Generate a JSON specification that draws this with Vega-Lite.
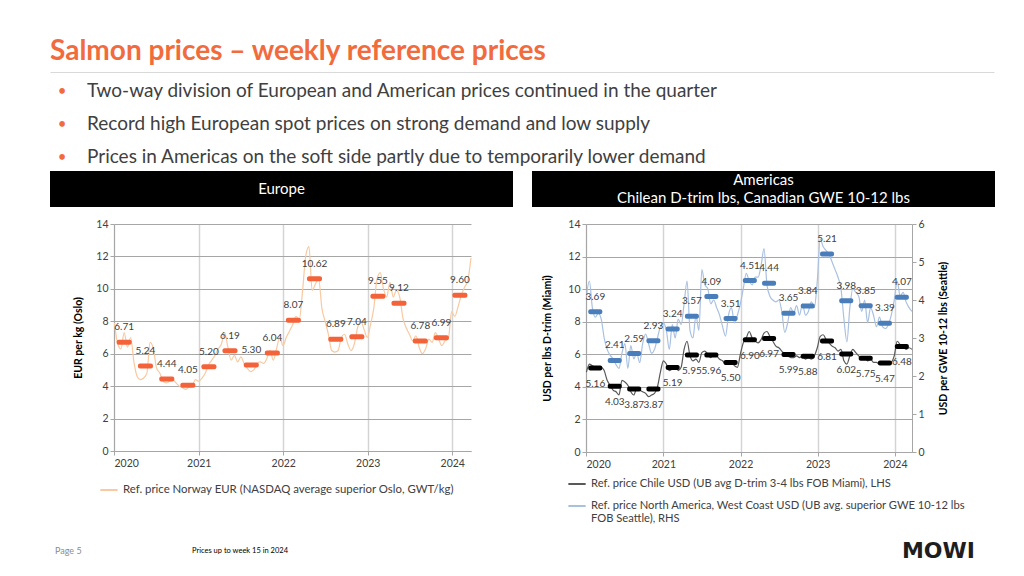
{
  "$schema": "https://vega.github.io/schema/vega-lite/v6.json",
  "background": "white",
  "padding": {"left": 50, "top": 38, "right": 0, "bottom": 0},
  "title": {"text": "Salmon prices – weekly reference prices", "anchor": "start", "color": "#F26B3D", "font": "Lato", "fontSize": 28, "fontWeight": "bold", "offset": 6},
  "config": {
    "font": "Lato",
    "view": {"stroke": null},
    "axis": {"labelFont": "Lato", "titleFont": "Lato"},
    "legend": {"labelFont": "Lato"},
    "text": {"font": "Lato"}
  },
  "datasets": {
    "weekly": [
      {"d": "2020-01-03", "no": 7.9, "cl": 4.9, "na": 4.1},
      {"d": "2020-01-17", "no": 6.6, "cl": 5.4, "na": 4.5},
      {"d": "2020-01-31", "no": 6.3, "cl": 5.3, "na": 3.8},
      {"d": "2020-02-14", "no": 7.3, "cl": 5.2, "na": 3.55},
      {"d": "2020-02-28", "no": 6.4, "cl": 5.1, "na": 3.65},
      {"d": "2020-03-13", "no": 7.0, "cl": 5.2, "na": 3.5},
      {"d": "2020-03-27", "no": 5.5, "cl": 5.0, "na": 3.0},
      {"d": "2020-04-10", "no": 4.6, "cl": 4.4, "na": 2.7},
      {"d": "2020-04-24", "no": 4.4, "cl": 4.1, "na": 2.55},
      {"d": "2020-05-08", "no": 4.5, "cl": 3.8, "na": 2.45},
      {"d": "2020-05-22", "no": 4.8, "cl": 3.7, "na": 2.3},
      {"d": "2020-06-05", "no": 6.7, "cl": 3.5, "na": 2.2},
      {"d": "2020-06-19", "no": 6.3, "cl": 4.4, "na": 2.6},
      {"d": "2020-07-03", "no": 5.1, "cl": 4.3, "na": 2.85},
      {"d": "2020-07-17", "no": 4.8, "cl": 4.1, "na": 2.2},
      {"d": "2020-07-31", "no": 4.3, "cl": 3.7, "na": 2.8},
      {"d": "2020-08-14", "no": 4.2, "cl": 3.5, "na": 2.45},
      {"d": "2020-08-28", "no": 4.3, "cl": 3.9, "na": 2.6},
      {"d": "2020-09-11", "no": 4.4, "cl": 3.8, "na": 2.35},
      {"d": "2020-09-25", "no": 4.2, "cl": 3.7, "na": 2.85},
      {"d": "2020-10-09", "no": 4.0, "cl": 3.6, "na": 3.1},
      {"d": "2020-10-23", "no": 3.9, "cl": 3.4, "na": 2.85},
      {"d": "2020-11-06", "no": 3.8, "cl": 3.5, "na": 2.6},
      {"d": "2020-11-20", "no": 3.95, "cl": 3.6, "na": 2.7},
      {"d": "2020-12-04", "no": 4.05, "cl": 4.0, "na": 3.0},
      {"d": "2020-12-18", "no": 4.4, "cl": 4.9, "na": 3.3},
      {"d": "2021-01-01", "no": 4.3, "cl": 5.6, "na": 3.4},
      {"d": "2021-01-15", "no": 4.5, "cl": 5.4, "na": 3.2},
      {"d": "2021-01-29", "no": 4.8, "cl": 5.0, "na": 2.7},
      {"d": "2021-02-12", "no": 5.3, "cl": 5.1, "na": 3.35},
      {"d": "2021-02-26", "no": 5.6, "cl": 5.3, "na": 3.0},
      {"d": "2021-03-12", "no": 5.9, "cl": 5.0, "na": 3.5},
      {"d": "2021-03-26", "no": 6.3, "cl": 5.2, "na": 3.35},
      {"d": "2021-04-09", "no": 6.6, "cl": 6.3, "na": 3.9},
      {"d": "2021-04-23", "no": 7.3, "cl": 6.8, "na": 4.5},
      {"d": "2021-05-07", "no": 6.4, "cl": 5.9, "na": 3.2},
      {"d": "2021-05-21", "no": 5.6, "cl": 5.6, "na": 3.0},
      {"d": "2021-06-04", "no": 5.9, "cl": 5.7, "na": 3.6},
      {"d": "2021-06-18", "no": 5.5, "cl": 5.5, "na": 3.2},
      {"d": "2021-07-02", "no": 5.8, "cl": 6.1, "na": 4.8},
      {"d": "2021-07-16", "no": 5.4, "cl": 6.2, "na": 4.4},
      {"d": "2021-07-30", "no": 5.1, "cl": 6.0, "na": 4.3},
      {"d": "2021-08-13", "no": 4.9, "cl": 5.8, "na": 3.9},
      {"d": "2021-08-27", "no": 5.0, "cl": 6.0, "na": 4.0},
      {"d": "2021-09-10", "no": 5.4, "cl": 5.9, "na": 3.8},
      {"d": "2021-09-24", "no": 5.5, "cl": 5.7, "na": 3.6},
      {"d": "2021-10-08", "no": 5.4, "cl": 5.6, "na": 3.3},
      {"d": "2021-10-22", "no": 5.7, "cl": 5.4, "na": 3.05},
      {"d": "2021-11-05", "no": 6.2, "cl": 5.5, "na": 3.6},
      {"d": "2021-11-19", "no": 5.6, "cl": 5.6, "na": 3.8},
      {"d": "2021-12-03", "no": 6.3, "cl": 5.3, "na": 3.4},
      {"d": "2021-12-17", "no": 7.0, "cl": 5.2, "na": 3.6},
      {"d": "2021-12-31", "no": 6.5, "cl": 6.0, "na": 3.9},
      {"d": "2022-01-14", "no": 7.0, "cl": 6.7, "na": 4.3},
      {"d": "2022-01-28", "no": 7.4, "cl": 7.0, "na": 4.7},
      {"d": "2022-02-11", "no": 7.8, "cl": 7.4, "na": 4.5},
      {"d": "2022-02-25", "no": 8.3, "cl": 7.0, "na": 4.4},
      {"d": "2022-03-11", "no": 8.1, "cl": 6.8, "na": 4.6},
      {"d": "2022-03-25", "no": 9.8, "cl": 6.7, "na": 4.6},
      {"d": "2022-04-08", "no": 12.0, "cl": 6.9, "na": 4.9},
      {"d": "2022-04-22", "no": 12.6, "cl": 7.3, "na": 5.35},
      {"d": "2022-05-06", "no": 9.9, "cl": 7.4, "na": 4.4},
      {"d": "2022-05-20", "no": 10.3, "cl": 7.1, "na": 4.1},
      {"d": "2022-06-03", "no": 10.6, "cl": 6.8, "na": 4.0},
      {"d": "2022-06-17", "no": 8.8, "cl": 6.5, "na": 3.95},
      {"d": "2022-07-01", "no": 8.0, "cl": 6.4, "na": 4.0},
      {"d": "2022-07-15", "no": 7.2, "cl": 6.2, "na": 3.7},
      {"d": "2022-07-29", "no": 6.2, "cl": 6.0, "na": 3.15},
      {"d": "2022-08-12", "no": 6.1, "cl": 5.9, "na": 3.4},
      {"d": "2022-08-26", "no": 6.2, "cl": 5.8, "na": 3.8},
      {"d": "2022-09-09", "no": 7.0, "cl": 5.8, "na": 3.65},
      {"d": "2022-09-23", "no": 7.2, "cl": 5.9, "na": 3.85},
      {"d": "2022-10-07", "no": 6.6, "cl": 5.8, "na": 3.6},
      {"d": "2022-10-21", "no": 6.2, "cl": 5.9, "na": 3.9},
      {"d": "2022-11-04", "no": 6.6, "cl": 5.7, "na": 3.6},
      {"d": "2022-11-18", "no": 7.6, "cl": 5.8, "na": 3.7},
      {"d": "2022-12-02", "no": 8.0, "cl": 5.7, "na": 3.95},
      {"d": "2022-12-16", "no": 7.5, "cl": 5.9, "na": 3.8},
      {"d": "2022-12-30", "no": 7.0, "cl": 6.4, "na": 4.5},
      {"d": "2023-01-13", "no": 7.8, "cl": 7.1, "na": 5.6},
      {"d": "2023-01-27", "no": 8.8, "cl": 7.2, "na": 5.4},
      {"d": "2023-02-10", "no": 10.6, "cl": 6.9, "na": 5.3},
      {"d": "2023-02-24", "no": 11.0, "cl": 6.7, "na": 5.2},
      {"d": "2023-03-10", "no": 10.0, "cl": 6.5, "na": 5.0},
      {"d": "2023-03-24", "no": 9.5, "cl": 6.4, "na": 4.8},
      {"d": "2023-04-07", "no": 10.4, "cl": 6.2, "na": 4.6},
      {"d": "2023-04-21", "no": 9.5, "cl": 6.3, "na": 4.3},
      {"d": "2023-05-05", "no": 9.9, "cl": 5.6, "na": 3.5},
      {"d": "2023-05-19", "no": 9.5, "cl": 5.4, "na": 2.9},
      {"d": "2023-06-02", "no": 8.2, "cl": 5.9, "na": 3.8},
      {"d": "2023-06-16", "no": 7.6, "cl": 6.3, "na": 4.3},
      {"d": "2023-06-30", "no": 7.2, "cl": 6.1, "na": 4.2},
      {"d": "2023-07-14", "no": 6.8, "cl": 5.9, "na": 4.1},
      {"d": "2023-07-28", "no": 7.1, "cl": 5.7, "na": 3.7},
      {"d": "2023-08-11", "no": 6.4, "cl": 5.8, "na": 4.0},
      {"d": "2023-08-25", "no": 6.0, "cl": 5.6, "na": 3.4},
      {"d": "2023-09-08", "no": 6.3, "cl": 5.7, "na": 3.8},
      {"d": "2023-09-22", "no": 6.9, "cl": 5.5, "na": 3.6},
      {"d": "2023-10-06", "no": 6.7, "cl": 5.5, "na": 3.3},
      {"d": "2023-10-20", "no": 7.3, "cl": 5.4, "na": 3.55},
      {"d": "2023-11-03", "no": 6.9, "cl": 5.5, "na": 3.3},
      {"d": "2023-11-17", "no": 6.5, "cl": 5.4, "na": 3.25},
      {"d": "2023-12-01", "no": 6.8, "cl": 5.4, "na": 3.35},
      {"d": "2023-12-15", "no": 6.9, "cl": 5.5, "na": 3.6},
      {"d": "2023-12-29", "no": 8.6, "cl": 5.9, "na": 4.0},
      {"d": "2024-01-12", "no": 8.3, "cl": 6.8, "na": 4.5},
      {"d": "2024-01-26", "no": 8.9, "cl": 6.6, "na": 4.1},
      {"d": "2024-02-09", "no": 9.6, "cl": 6.5, "na": 4.2},
      {"d": "2024-02-23", "no": 10.1, "cl": 6.3, "na": 3.95},
      {"d": "2024-03-08", "no": 10.5, "cl": 6.4, "na": 3.8},
      {"d": "2024-03-22", "no": 11.9, "cl": 6.3, "na": 3.7}
    ],
    "quarters": [
      {"q": "2020-02-14", "no": 6.71, "cl": 5.16, "na": 3.69},
      {"q": "2020-05-16", "no": 5.24, "cl": 4.03, "na": 2.41},
      {"q": "2020-08-16", "no": 4.44, "cl": 3.87, "na": 2.59},
      {"q": "2020-11-15", "no": 4.05, "cl": 3.87, "na": 2.93},
      {"q": "2021-02-14", "no": 5.20, "cl": 5.19, "na": 3.24},
      {"q": "2021-05-16", "no": 6.19, "cl": 5.95, "na": 3.57},
      {"q": "2021-08-16", "no": 5.30, "cl": 5.96, "na": 4.09},
      {"q": "2021-11-15", "no": 6.04, "cl": 5.50, "na": 3.51},
      {"q": "2022-02-14", "no": 8.07, "cl": 6.90, "na": 4.51},
      {"q": "2022-05-16", "no": 10.62, "cl": 6.97, "na": 4.44},
      {"q": "2022-08-16", "no": 6.89, "cl": 5.99, "na": 3.65},
      {"q": "2022-11-15", "no": 7.04, "cl": 5.88, "na": 3.84},
      {"q": "2023-02-14", "no": 9.55, "cl": 6.81, "na": 5.21},
      {"q": "2023-05-16", "no": 9.12, "cl": 6.02, "na": 3.98},
      {"q": "2023-08-16", "no": 6.78, "cl": 5.75, "na": 3.85},
      {"q": "2023-11-15", "no": 6.99, "cl": 5.47, "na": 3.39},
      {"q": "2024-02-03", "no": 9.60, "cl": 6.48, "na": 4.07}
    ],
    "bullets": [
      {"line": 1, "text": "Two-way division of European and American prices continued in the quarter"},
      {"line": 2, "text": "Record high European spot prices on strong demand and low supply"},
      {"line": 3, "text": "Prices in Americas on the soft side partly due to temporarily lower demand"}
    ]
  },
  "spacing": 15,
  "vconcat": [
    {
      "spacing": 0,
      "vconcat": [
        {
          "width": 944,
          "height": 99,
          "data": {"name": "bullets"},
          "layer": [
            {
              "mark": {"type": "text", "align": "center", "baseline": "middle", "fontSize": 15, "color": "#F26B3D"},
              "encoding": {
                "x": {"datum": 12, "type": "quantitative", "scale": {"domain": [0, 944], "nice": false, "zero": false}, "axis": {"orient": "top", "domainColor": "#D9D9D9", "domainWidth": 1, "ticks": false, "labels": false, "grid": false, "title": null}},
                "y": {"field": "line", "type": "quantitative", "scale": {"domain": [0.4242, 3.4242], "reverse": true, "nice": false, "zero": false}, "axis": null},
                "text": {"value": "•"}
              }
            },
            {
              "mark": {"type": "text", "align": "left", "baseline": "middle", "fontSize": 19, "color": "#404040"},
              "encoding": {
                "x": {"datum": 37, "type": "quantitative"},
                "y": {"field": "line", "type": "quantitative"},
                "text": {"field": "text"}
              }
            }
          ]
        },
        {
          "spacing": 12,
          "vconcat": [
            {
              "spacing": 19,
              "hconcat": [
                {
                  "width": 463,
                  "height": 36,
                  "view": {"fill": "#000000", "stroke": null},
                  "data": {"values": [{"t": "Europe"}]},
                  "mark": {"type": "text", "color": "#FFFFFF", "fontSize": 15},
                  "encoding": {"text": {"field": "t"}}
                },
                {
                  "width": 463,
                  "height": 36,
                  "view": {"fill": "#000000", "stroke": null},
                  "data": {"values": [{"t": "Americas\nChilean D-trim lbs, Canadian GWE 10-12 lbs"}]},
                  "mark": {"type": "text", "color": "#FFFFFF", "fontSize": 15, "lineBreak": "\n", "lineHeight": 18, "dy": -9},
                  "encoding": {"text": {"field": "t"}}
                }
              ]
            },
            {
              "spacing": 68,
              "resolve": {"scale": {"color": "independent"}, "legend": {"color": "independent"}},
              "hconcat": [
                {
                  "spacing": 0,
                  "resolve": {"scale": {"color": "independent"}, "legend": {"color": "independent"}},
                  "hconcat": [
                    {
                      "width": 23,
                      "height": 10,
                      "data": {"values": []},
                      "mark": "point"
                    },
                    {
                      "width": 357,
                      "height": 227,
                      "layer": [
                        {
                          "data": {"name": "weekly"},
                          "mark": {"type": "line", "strokeWidth": 1.2, "interpolate": "monotone"},
                          "encoding": {
                            "x": {"field": "d", "type": "temporal",
                              "scale": {"domain": [{"year": 2020, "month": 1, "date": 1}, {"year": 2024, "month": 3, "date": 22}]},
                              "axis": {"values": [{"year": 2020, "month": 1, "date": 1}, {"year": 2021, "month": 1, "date": 1}, {"year": 2022, "month": 1, "date": 1}, {"year": 2023, "month": 1, "date": 1}, {"year": 2024, "month": 1, "date": 1}],
                                "tickCount": 20, "format": "%Y", "title": null, "grid": true, "gridColor": "#D4D4D4", "gridWidth": 1.5, "domainColor": "#A6A6A6", "tickColor": "#A6A6A6", "tickSize": 4, "labelFontSize": 10.5, "labelColor": "#404040", "labelPadding": 3}},
                            "y": {"field": "no", "type": "quantitative", "scale": {"domain": [0, 14], "nice": false},
                              "axis": {"values": [0, 2, 4, 6, 8, 10, 12, 14], "tickCount": 20, "format": "d", "grid": true, "gridColor": "#A6A6A6", "domainColor": "#A6A6A6", "tickColor": "#A6A6A6", "tickSize": 4, "labelFontSize": 10.5, "labelColor": "#404040", "labelOverlap": false, "title": "EUR per kg (Oslo)", "titleFontSize": 10.5, "titleFontWeight": "bold", "titleColor": "#000000", "titlePadding": 12}},
                            "color": {"datum": "Ref. price Norway EUR (NASDAQ average superior Oslo, GWT/kg)", "scale": {"range": ["#F9C9A1"]},
                              "legend": {"orient": "none", "legendX": -15, "legendY": 256, "title": null, "symbolType": "stroke", "symbolStrokeWidth": 2, "symbolSize": 300, "labelFontSize": 11.4, "labelColor": "#404040", "labelLimit": 600}}
                          }
                        },
                        {
                          "data": {"name": "quarters"},
                          "mark": {"type": "tick", "orient": "horizontal", "size": 15, "thickness": 5, "cornerRadius": 2, "color": "#F4623A", "opacity": 1},
                          "encoding": {
                            "x": {"field": "q", "type": "temporal"},
                            "y": {"field": "no", "type": "quantitative"}
                          }
                        },
                        {
                          "data": {"name": "quarters"},
                          "mark": {"type": "text", "dy": -15, "fontSize": 10, "color": "#404040"},
                          "encoding": {
                            "x": {"field": "q", "type": "temporal"},
                            "y": {"field": "no", "type": "quantitative"},
                            "text": {"field": "no", "type": "quantitative", "format": ".2f"}
                          }
                        }
                      ]
                    }
                  ]
                },
                {
                  "width": 326,
                  "height": 228,
                  "resolve": {"scale": {"y": "independent"}},
                  "layer": [
                    {
                      "data": {"name": "weekly"},
                      "mark": {"type": "line", "strokeWidth": 1.2, "interpolate": "monotone"},
                      "encoding": {
                        "x": {"field": "d", "type": "temporal",
                          "scale": {"domain": [{"year": 2020, "month": 1, "date": 1}, {"year": 2024, "month": 3, "date": 22}]},
                          "axis": {"values": [{"year": 2020, "month": 1, "date": 1}, {"year": 2021, "month": 1, "date": 1}, {"year": 2022, "month": 1, "date": 1}, {"year": 2023, "month": 1, "date": 1}, {"year": 2024, "month": 1, "date": 1}],
                            "tickCount": 20, "format": "%Y", "title": null, "grid": true, "gridColor": "#D4D4D4", "gridWidth": 1.5, "domainColor": "#A6A6A6", "tickColor": "#A6A6A6", "tickSize": 4, "labelFontSize": 10.5, "labelColor": "#404040", "labelPadding": 3}},
                        "y": {"field": "cl", "type": "quantitative", "scale": {"domain": [0, 14], "nice": false},
                          "axis": {"orient": "left", "values": [0, 2, 4, 6, 8, 10, 12, 14], "tickCount": 20, "format": "d", "grid": true, "gridColor": "#A6A6A6", "domainColor": "#A6A6A6", "tickColor": "#A6A6A6", "tickSize": 4, "labelFontSize": 10.5, "labelColor": "#404040", "labelOverlap": false, "title": "USD per lbs D-trim (Miami)", "titleFontSize": 10.5, "titleFontWeight": "bold", "titleColor": "#000000", "titlePadding": 15}},
                        "color": {"datum": "Ref. price Chile USD (UB avg D-trim 3-4 lbs FOB Miami), LHS",
                          "scale": {"domain": ["Ref. price Chile USD (UB avg D-trim 3-4 lbs FOB Miami), LHS", "Ref. price North America, West Coast USD (UB avg. superior GWE 10-12 lbs|FOB Seattle), RHS"], "range": ["#595959", "#A9C1E1"]},
                          "legend": {"orient": "none", "legendX": -19, "legendY": 250, "title": null, "symbolType": "stroke", "symbolStrokeWidth": 2, "symbolSize": 300, "labelFontSize": 11.2, "labelColor": "#404040", "labelLimit": 600, "rowPadding": 6, "labelExpr": "split(datum.label, '|')"}}
                      }
                    },
                    {
                      "data": {"name": "weekly"},
                      "mark": {"type": "line", "strokeWidth": 1.2, "interpolate": "monotone"},
                      "encoding": {
                        "x": {"field": "d", "type": "temporal"},
                        "y": {"field": "na", "type": "quantitative", "scale": {"domain": [0, 6], "nice": false},
                          "axis": {"orient": "right", "values": [0, 1, 2, 3, 4, 5, 6], "tickCount": 20, "format": "d", "grid": false, "domainColor": "#A6A6A6", "tickColor": "#A6A6A6", "tickSize": 4, "labelFontSize": 10.5, "labelColor": "#404040", "title": "USD per GWE 10-12 lbs (Seattle)", "titleFontSize": 10.5, "titleFontWeight": "bold", "titleColor": "#000000", "titleAngle": 270, "titleBaseline": "top", "titlePadding": 14}},
                        "color": {"datum": "Ref. price North America, West Coast USD (UB avg. superior GWE 10-12 lbs|FOB Seattle), RHS"}
                      }
                    },
                    {
                      "data": {"name": "quarters"},
                      "mark": {"type": "tick", "orient": "horizontal", "size": 14, "thickness": 5, "cornerRadius": 2, "color": "#000000", "opacity": 1},
                      "encoding": {
                        "x": {"field": "q", "type": "temporal"},
                        "y": {"field": "cl", "type": "quantitative", "scale": {"domain": [0, 14], "nice": false}, "axis": null}
                      }
                    },
                    {
                      "data": {"name": "quarters"},
                      "mark": {"type": "tick", "orient": "horizontal", "size": 14, "thickness": 5, "cornerRadius": 2, "color": "#4A7EBB", "opacity": 1},
                      "encoding": {
                        "x": {"field": "q", "type": "temporal"},
                        "y": {"field": "na", "type": "quantitative", "scale": {"domain": [0, 6], "nice": false}, "axis": null}
                      }
                    },
                    {
                      "data": {"name": "quarters"},
                      "mark": {"type": "text", "dy": 16, "fontSize": 10, "color": "#404040"},
                      "encoding": {
                        "x": {"field": "q", "type": "temporal"},
                        "y": {"field": "cl", "type": "quantitative", "scale": {"domain": [0, 14], "nice": false}, "axis": null},
                        "text": {"field": "cl", "type": "quantitative", "format": ".2f"}
                      }
                    },
                    {
                      "data": {"name": "quarters"},
                      "mark": {"type": "text", "dy": -15, "fontSize": 10, "color": "#404040"},
                      "encoding": {
                        "x": {"field": "q", "type": "temporal"},
                        "y": {"field": "na", "type": "quantitative", "scale": {"domain": [0, 6], "nice": false}, "axis": null},
                        "text": {"field": "na", "type": "quantitative", "format": ".2f"}
                      }
                    }
                  ]
                }
              ]
            }
          ]
        }
      ]
    },
    {
      "width": 944,
      "height": 20,
      "layer": [
        {
          "data": {"values": [{"t": "Page 5"}]},
          "mark": {"type": "text", "align": "left", "fontSize": 9, "color": "#8C8C8C"},
          "encoding": {
            "x": {"datum": 5, "type": "quantitative", "scale": {"domain": [0, 944], "nice": false}, "axis": null},
            "text": {"field": "t"}
          }
        },
        {
          "data": {"values": [{"t": "Prices up to week 15 in 2024"}]},
          "mark": {"type": "text", "align": "left", "fontSize": 7.5, "color": "#000000"},
          "encoding": {
            "x": {"datum": 142, "type": "quantitative"},
            "text": {"field": "t"}
          }
        },
        {
          "data": {"values": [{"t": "MOWI"}]},
          "mark": {"type": "text", "align": "right", "fontSize": 22, "fontWeight": "bold", "font": "DejaVu Sans", "color": "#1E1E1E"},
          "encoding": {
            "x": {"datum": 925, "type": "quantitative"},
            "text": {"field": "t"}
          }
        }
      ]
    }
  ]
}
